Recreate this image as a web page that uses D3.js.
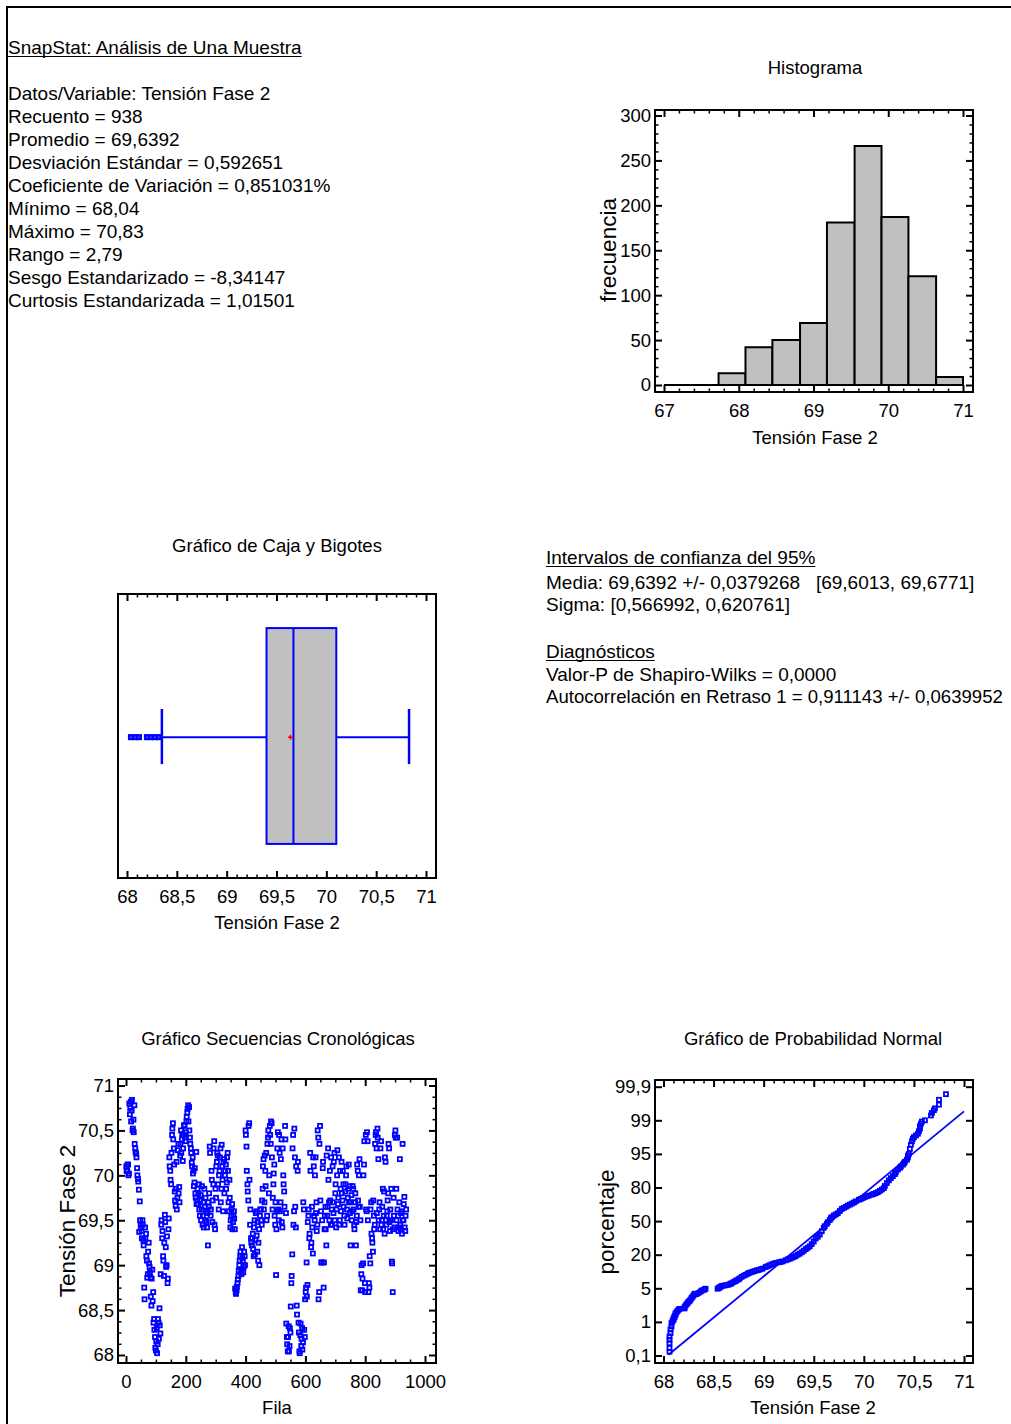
<!DOCTYPE html>
<html>
<head>
<meta charset="utf-8">
<title>SnapStat: Análisis de Una Muestra</title>
<script src="https://d3js.org/d3.v7.min.js"></script>
<style>
  body { margin: 0; background: #fff; }
  svg text { font-family: "Liberation Sans", Arial, Helvetica, sans-serif; fill: #000; }
</style>
</head>
<body>
<svg id="hoja" width="1011" height="1424"></svg>
<script>
// ---- datos ----
var resumen = [
  "Datos/Variable: Tensión Fase 2",
  "Recuento = 938",
  "Promedio = 69,6392",
  "Desviación Estándar = 0,592651",
  "Coeficiente de Variación = 0,851031%",
  "Mínimo = 68,04",
  "Máximo = 70,83",
  "Rango = 2,79",
  "Sesgo Estandarizado = -8,34147",
  "Curtosis Estandarizada = 1,01501"
];
var intervalos = [
  "Media: 69,6392 +/- 0,0379268   [69,6013, 69,6771]",
  "Sigma: [0,566992, 0,620761]"
];
var diagnosticos = [
  "Valor-P de Shapiro-Wilks = 0,0000",
  "Autocorrelación en Retraso 1 = 0,911143 +/- 0,0639952"
];

// histograma
var bordesClase = [67, 67.36, 67.73, 68.09, 68.45, 68.82, 69.18, 69.55, 69.91, 70.27, 70.64, 71];
var frecuencias = [0, 0, 13, 42, 50, 69, 181, 266, 187, 121, 9];
var histTicksX = [67, 68, 69, 70, 71];
var histTicksY = [0, 50, 100, 150, 200, 250, 300];

// caja y bigotes
var bigoteInf = 68.35, cuartil1 = 69.40, mediana = 69.67, cuartil3 = 70.10, bigoteSup = 70.83;
var media = 69.64;
var atipicos = [68.04, 68.08, 68.12, 68.20, 68.24, 68.28, 68.32];
var cajaTicksX = [68, 68.5, 69, 69.5, 70, 70.5, 71];

// secuencia cronologica: lecturas en las filas 1, 4, 7, ... 937
var tensionA = [
  70.10, 70.05, 70.12, 70.02, 70.68, 70.82, 70.72, 70.50, 70.62, 70.78,
  70.30, 70.24, 70.08, 69.96, 69.84, 69.71, 69.45, 69.38, 69.50, 69.28,
  68.75, 69.42, 69.35, 69.05, 68.90, 69.25, 68.98, 68.86, 68.55, 68.95,
  68.70, 68.40, 68.20, 68.05, 68.30, 68.12, 68.36, 68.52, 68.24, 69.45,
  69.30, 69.10, 68.88, 69.56, 69.20, 69.00, 68.80, 69.40, 70.20, 70.05,
  69.90, 70.45, 70.58, 70.30, 69.82, 69.66, 70.15, 69.75, 70.35, 69.87,
  70.22, 70.50, 70.40, 70.16, 70.45, 70.55, 70.38, 70.60, 70.70, 70.78,
  70.76, 70.42, 70.30, 70.14, 70.20, 70.05, 69.92, 69.80, 70.26, 69.72,
  69.68, 69.90, 69.55, 69.78, 69.62, 69.45, 69.70, 69.85, 69.50, 69.60,
  69.42, 69.22, 69.65, 70.32, 69.55, 70.05, 69.48, 69.90, 70.38, 69.40,
  69.75, 70.15, 70.22, 69.62, 70.05, 70.30, 69.85, 70.10, 69.60, 70.18,
  70.00, 70.12, 69.92, 70.25, 69.70, 69.95, 69.42, 69.55, 69.68, 69.48,
  69.60, 69.40, 68.70, 68.72, 68.80, 68.88, 69.00, 69.10, 68.95, 69.20,
  69.05, 68.98, 69.10, 70.50, 70.32, 69.90, 69.72, 70.58, 69.45, 69.30,
  69.22, 69.35, 69.10, 69.50, 69.28, 69.60, 69.15, 69.05, 69.40, 69.55,
  69.62, 69.45, 69.85, 70.18, 69.70, 70.05, 70.25, 69.55, 70.42, 69.80,
  70.55, 70.35, 70.58, 69.62, 69.90, 70.12, 69.45, 68.89, 69.60, 70.48,
  69.50, 70.25, 69.70, 70.40, 69.42, 70.00, 69.82, 70.55, 69.58, 68.20,
  68.04, 68.32, 68.10, 68.25, 68.80, 69.12, 70.45, 69.60, 70.20, 69.42,
  68.55, 70.05, 68.36, 68.04, 68.22, 68.10, 68.30, 68.14, 69.62, 68.20,
  68.70, 69.03, 68.78, 69.55, 69.30, 70.25, 69.20, 69.65, 69.13, 70.10,
  69.50, 70.20, 69.70, 69.45, 70.42, 68.70, 70.55, 69.60, 69.03, 70.08,
  68.75, 69.40, 69.65, 69.22, 69.55, 70.30, 69.70, 70.05, 69.45, 69.62,
  70.10, 69.58, 70.25, 69.80, 69.42, 70.00, 69.68, 70.20, 69.50, 69.85,
  70.15, 69.72, 69.90, 69.55, 69.82, 70.00, 69.62, 69.75, 70.12, 69.88,
  69.22, 69.78, 69.60, 69.85, 69.45, 69.70, 69.22, 69.55, 70.05, 69.65,
  70.18, 69.50, 68.90, 68.72, 69.02, 70.12, 68.80, 70.45, 69.60, 70.38,
  68.70, 68.75, 69.02, 69.70, 69.30, 69.15, 69.55, 69.45, 70.45, 70.30,
  70.52, 70.18, 69.62, 69.40, 70.38, 69.50, 69.85, 69.55, 69.35, 70.15,
  69.45, 69.60, 69.80, 70.30, 69.38, 69.50, 69.04, 68.70, 69.75, 69.42,
  70.50, 69.85, 70.42, 69.55, 69.42, 70.18, 69.40, 69.60, 70.35, 69.50,
  69.76, 69.38, 69.62
];
// lecturas en las filas 2, 5, 8, ... 935
var tensionB = [
  70.05, 70.12, 70.00, 70.80, 70.75, 70.60, 70.84, 70.52, 70.48, 70.35,
  70.26, 70.20, 70.00, 69.93, 69.37, 69.50, 69.42, 69.30, 69.45, 69.22,
  68.62, 69.30, 69.10, 68.86, 69.15, 69.02, 68.92, 68.65, 68.85, 68.60,
  68.36, 68.28, 68.08, 68.15, 68.02, 68.40, 68.18, 68.33, 68.90, 69.50,
  69.38, 69.05, 69.25, 69.48, 68.98, 69.32, 68.85, 69.52, 70.10, 69.95,
  70.25, 70.52, 70.40, 70.12, 69.72, 69.85, 69.62, 70.28, 69.80, 69.70,
  70.35, 70.25, 70.46, 70.30, 70.56, 70.42, 70.48, 70.65, 70.74, 70.60,
  70.50, 70.35, 70.25, 70.10, 70.02, 69.88, 70.08, 69.75, 69.68, 69.85,
  69.80, 69.62, 69.72, 69.50, 69.88, 69.55, 69.42, 69.65, 69.75, 69.48,
  69.58, 69.70, 69.80, 70.25, 69.62, 69.95, 69.72, 70.30, 69.45, 69.85,
  70.10, 70.25, 69.90, 70.00, 70.20, 69.70, 70.34, 69.95, 70.15, 69.80,
  70.05, 69.85, 70.20, 70.05, 69.60, 69.75, 69.50, 69.62, 69.40, 69.55,
  69.52, 68.74, 68.68, 68.76, 68.84, 68.94, 69.05, 69.15, 68.90, 69.08,
  68.92, 69.15, 69.00, 70.45, 70.05, 69.82, 70.55, 69.95, 69.62, 69.25,
  69.30, 69.18, 69.42, 69.12, 69.58, 69.33, 69.48, 69.25, 69.00, 69.62,
  69.50, 69.72, 70.10, 69.62, 70.22, 69.88, 69.50, 70.35, 70.50, 70.00,
  70.45, 70.60, 70.20, 69.75, 70.02, 69.55, 69.70, 69.40, 70.30, 69.62,
  70.45, 69.60, 70.18, 69.48, 70.30, 69.90, 69.65, 70.40, 68.35, 68.12,
  68.20, 68.04, 68.30, 68.54, 68.88, 70.30, 69.45, 70.52, 69.65, 70.10,
  68.45, 70.15, 68.25, 68.02, 68.35, 68.18, 68.06, 69.70, 68.28, 68.62,
  68.75, 68.65, 69.48, 69.62, 69.35, 70.05, 69.25, 69.42, 70.20, 69.55,
  70.00, 69.58, 69.38, 70.50, 68.62, 70.35, 69.72, 69.03, 69.50, 70.15,
  69.03, 69.55, 69.40, 70.22, 69.65, 69.95, 69.50, 69.72, 70.20, 69.45,
  69.70, 70.15, 69.50, 69.90, 69.62, 70.28, 69.75, 69.45, 70.05, 69.60,
  69.80, 70.05, 69.65, 69.45, 69.90, 70.10, 69.52, 69.85, 69.70, 69.58,
  69.70, 69.50, 69.88, 69.62, 69.40, 69.80, 69.48, 70.12, 69.72, 70.00,
  69.65, 68.72, 69.00, 68.85, 70.00, 70.38, 68.70, 69.62, 70.48, 69.50,
  68.80, 69.10, 69.62, 69.35, 69.25, 69.72, 69.40, 70.35, 70.48, 69.58,
  70.42, 69.50, 69.70, 70.30, 69.45, 69.65, 69.40, 69.82, 70.20, 69.50,
  69.55, 69.72, 70.35, 69.48, 69.62, 69.85, 69.02, 69.40, 69.55, 70.45,
  70.42, 69.50, 69.62, 69.38, 69.70, 69.45, 69.58, 69.35, 69.50, 69.68,
  69.42, 69.55
];
var serieTicksX = [0, 200, 400, 600, 800, 1000];
var serieTicksY = [68, 68.5, 69, 69.5, 70, 70.5, 71];

// probabilidad normal: [valor ordenado, porcentaje]
var probNormal = [
  [68.06, 0.2], [68.06, 0.3], [68.06, 0.43], [68.06, 0.52], [68.06, 0.61], [68.07, 0.7], [68.07, 0.8],
  [68.08, 0.88], [68.08, 0.97], [68.09, 1.08], [68.10, 1.25], [68.10, 1.4], [68.11, 1.55], [68.11, 1.67],
  [68.12, 1.85], [68.12, 2.0], [68.13, 2.15], [68.14, 2.3], [68.15, 2.45], [68.16, 2.55],
  [68.21, 2.6], [68.21, 2.75], [68.22, 2.95], [68.23, 3.1], [68.24, 3.24], [68.25, 3.4], [68.26, 3.5],
  [68.27, 3.65], [68.28, 3.85], [68.29, 4.0], [68.30, 4.15], [68.31, 4.35], [68.33, 4.3], [68.35, 4.45],
  [68.37, 4.6], [68.38, 4.73], [68.40, 4.8], [68.41, 4.88], [68.42, 4.95],
  [68.54, 4.95], [68.55, 5.1], [68.56, 5.4], [68.57, 5.7], [68.58, 6.0], [68.60, 6.2], [68.62, 6.35],
  [68.64, 6.5], [68.66, 6.8], [68.67, 7.0], [68.68, 7.3], [68.70, 7.8], [68.72, 8.2], [68.73, 8.6],
  [68.75, 9.0], [68.76, 9.4], [68.78, 10.1], [68.80, 10.6], [68.82, 11.0], [68.84, 11.5], [68.85, 11.8],
  [68.87, 12.1], [68.89, 12.4], [68.91, 12.7], [68.93, 13.0], [68.95, 13.2], [68.97, 13.5], [68.99, 13.8],
  [69.02, 14.5], [69.04, 14.9], [69.06, 15.3], [69.08, 15.7], [69.10, 16.0], [69.12, 16.3], [69.15, 16.6],
  [69.17, 16.8], [69.19, 17.0], [69.22, 17.5], [69.24, 17.9], [69.26, 18.2], [69.28, 18.6], [69.30, 19.0],
  [69.32, 19.4], [69.34, 20.0], [69.36, 21.0], [69.38, 22.2], [69.40, 23.5], [69.42, 25.0], [69.44, 26.2],
  [69.46, 27.5], [69.48, 29.5], [69.50, 31.8], [69.52, 34.5], [69.54, 36.0], [69.56, 38.0], [69.58, 41.0],
  [69.60, 44.0], [69.61, 45.5], [69.63, 47.5], [69.64, 49.0], [69.66, 51.0], [69.67, 52.5], [69.68, 53.5],
  [69.70, 55.0], [69.72, 56.0], [69.74, 57.0], [69.76, 59.0], [69.78, 60.9], [69.80, 61.8], [69.82, 62.7],
  [69.84, 63.8], [69.86, 64.7], [69.88, 65.6], [69.90, 66.6], [69.92, 67.6], [69.95, 69.0], [69.97, 69.8],
  [69.99, 70.6], [70.01, 71.5], [70.03, 72.2], [70.05, 72.8], [70.08, 73.6], [70.10, 74.3], [70.12, 75.0],
  [70.14, 75.8], [70.16, 77.0], [70.18, 78.2], [70.20, 79.5], [70.21, 80.7], [70.23, 82.0], [70.25, 83.2],
  [70.27, 84.2], [70.29, 85.1], [70.31, 86.0], [70.32, 86.8], [70.34, 88.0], [70.36, 88.8], [70.37, 89.4],
  [70.39, 90.2], [70.40, 90.8], [70.41, 91.5], [70.43, 92.4], [70.44, 93.4], [70.44, 94.2], [70.45, 95.0],
  [70.46, 95.6], [70.47, 96.1], [70.48, 96.5], [70.49, 96.8], [70.50, 97.0], [70.52, 97.2], [70.54, 97.4],
  [70.55, 97.7], [70.56, 98.0], [70.56, 98.3], [70.57, 98.6], [70.58, 98.85], [70.61, 99.0], [70.67, 99.13],
  [70.68, 99.2], [70.70, 99.27], [70.71, 99.32], [70.75, 99.42], [70.75, 99.55], [70.82, 99.7]
];
var rectaValor = [68.05, 71.0];
var rectaPct = [0.12, 99.24];
var normalTicksY = [0.1, 1, 5, 20, 50, 80, 95, 99, 99.9];
var normalTicksX = [68, 68.5, 69, 69.5, 70, 70.5, 71];

// ---- dibujo ----
var svg = d3.select("#hoja");
var azul = "#0000ff";
var tam = "18.5px";
var coma = d3.formatLocale({decimal: ",", thousands: ".", grouping: [3], currency: ["", ""]}).format("");

// marco de la hoja
svg.append("path").attr("d", "M7,1424V7H1011")
  .attr("fill", "none").attr("stroke", "#000").attr("stroke-width", 2);

function texto(x, y, s, ancla, size) {
  return svg.append("text").attr("x", x).attr("y", y)
    .attr("text-anchor", ancla || "start")
    .style("font-size", size || tam)
    .style("white-space", "pre")
    .text(s);
}
function subrayado(x, y, s) {
  var t = texto(x, y, s, "start", "19px");
  var w = t.node().getComputedTextLength();
  svg.append("line").attr("x1", x).attr("x2", x + w).attr("y1", y + 2.5).attr("y2", y + 2.5)
    .attr("stroke", "#000").attr("stroke-width", 1.2);
}
function tituloY(x, y, s) {
  svg.append("text").attr("transform", "translate(" + x + "," + y + ") rotate(-90)")
    .attr("text-anchor", "middle").attr("dy", "0.35em")
    .style("font-size", "22.5px").text(s);
}

// bloques de texto
subrayado(8, 54, "SnapStat: Análisis de Una Muestra");
resumen.forEach(function(s, i) { texto(8, 100 + i * 23, s, "start", "19px"); });

subrayado(546, 564, "Intervalos de confianza del 95%");
intervalos.forEach(function(s, i) { texto(546, 589 + i * 22, s, "start", "19px"); });
subrayado(546, 658, "Diagnósticos");
diagnosticos.forEach(function(s, i) {
  var t = texto(546, 681 + i * 22, s, "start", "19px");
  // la ultima linea llega al borde derecho: se reduce la letra para que quepa
  var ancho = t.node().getComputedTextLength(), maximo = 1003 - 546;
  if (ancho > maximo) t.style("font-size", (19 * maximo / ancho).toFixed(2) + "px");
});

// ejes con marcas hacia dentro en los cuatro lados
function ejes(caja, x, xMay, xMen, y, yMay, yMen, fmtY) {
  var g = svg.append("g");
  var ab = caja.y + caja.h, de = caja.x + caja.w;
  g.append("g").attr("transform", "translate(0," + ab + ")")
    .call(d3.axisBottom(x).tickValues(xMay).tickSizeInner(-7).tickSizeOuter(0).tickPadding(12).tickFormat(coma));
  g.append("g").attr("transform", "translate(0," + caja.y + ")")
    .call(d3.axisTop(x).tickValues(xMay).tickSizeInner(-7).tickSizeOuter(0).tickFormat(""));
  if (xMen) {
    g.append("g").attr("class", "menor").attr("transform", "translate(0," + ab + ")")
      .call(d3.axisBottom(x).tickValues(xMen).tickSizeInner(-3.5).tickSizeOuter(0).tickFormat(""));
    g.append("g").attr("class", "menor").attr("transform", "translate(0," + caja.y + ")")
      .call(d3.axisTop(x).tickValues(xMen).tickSizeInner(-3.5).tickSizeOuter(0).tickFormat(""));
  }
  if (y) {
    g.append("g").attr("transform", "translate(" + caja.x + ",0)")
      .call(d3.axisLeft(y).tickValues(yMay).tickSizeInner(-7).tickSizeOuter(0).tickPadding(4).tickFormat(fmtY || coma));
    g.append("g").attr("transform", "translate(" + de + ",0)")
      .call(d3.axisRight(y).tickValues(yMay).tickSizeInner(-7).tickSizeOuter(0).tickFormat(""));
    if (yMen) {
      g.append("g").attr("class", "menor").attr("transform", "translate(" + caja.x + ",0)")
        .call(d3.axisLeft(y).tickValues(yMen).tickSizeInner(-3.5).tickSizeOuter(0).tickFormat(""));
      g.append("g").attr("class", "menor").attr("transform", "translate(" + de + ",0)")
        .call(d3.axisRight(y).tickValues(yMen).tickSizeInner(-3.5).tickSizeOuter(0).tickFormat(""));
    }
  }
  g.selectAll(".domain").remove();
  g.selectAll(".tick line").attr("stroke", "#000").attr("stroke-width", 2);
  g.selectAll(".menor .tick line").attr("stroke-width", 1.5);
  g.selectAll(".tick text").style("font-size", tam).attr("fill", "#000");
  svg.append("rect").attr("x", caja.x).attr("y", caja.y).attr("width", caja.w).attr("height", caja.h)
    .attr("fill", "none").attr("stroke", "#000").attr("stroke-width", 2);
}
function menores(a, b, paso, mayores) {
  return d3.range(a, b + paso / 2, paso).filter(function(v) {
    return !mayores.some(function(m) { return Math.abs(m - v) < paso / 10; });
  });
}
function cuadros(sel, puntos, fx, fy, lado, grosor) {
  sel.selectAll(null).data(puntos).enter().append("rect")
    .attr("x", function(d) { return fx(d[0]) - lado / 2; })
    .attr("y", function(d) { return fy(d[1]) - lado / 2; })
    .attr("width", lado).attr("height", lado)
    .attr("fill", "none").attr("stroke", azul).attr("stroke-width", grosor);
}

// ---------- Histograma ----------
var cajaH = {x: 655, y: 110, w: 318, h: 282};
var xH = d3.scaleLinear().domain([67, 71]).range([664, 963]);
var yH = d3.scaleLinear().domain([0, 300]).range([385, 115.5]);
texto(815, 74, "Histograma", "middle");
svg.append("g").selectAll("path").data(frecuencias).enter().append("path")
  .attr("d", function(f, i) {
    var x0 = xH(bordesClase[i]), x1 = xH(bordesClase[i + 1]);
    return "M" + x0 + "," + yH(0) + "V" + yH(f) + "H" + x1 + "V" + yH(0) + "Z";
  })
  .attr("fill", "#c0c0c0").attr("stroke", "#000").attr("stroke-width", 2);
ejes(cajaH, xH, histTicksX, menores(67, 71, 0.2, histTicksX), yH, histTicksY, menores(0, 300, 10, histTicksY));
texto(815, 444, "Tensión Fase 2", "middle");
tituloY(608, 250, "frecuencia");

// ---------- Caja y bigotes ----------
var cajaB = {x: 118, y: 594, w: 318, h: 284};
var xB = d3.scaleLinear().domain([68, 71]).range([127, 426]);
var yB = d3.scaleLinear().domain([0, 1]).range([cajaB.y + cajaB.h, cajaB.y]);
texto(277, 552, "Gráfico de Caja y Bigotes", "middle");
var gB = svg.append("g");
var yMed = yB(0.496);
gB.append("line").attr("x1", xB(bigoteInf)).attr("x2", xB(cuartil1)).attr("y1", yMed).attr("y2", yMed)
  .attr("stroke", azul).attr("stroke-width", 2);
gB.append("line").attr("x1", xB(cuartil3)).attr("x2", xB(bigoteSup)).attr("y1", yMed).attr("y2", yMed)
  .attr("stroke", azul).attr("stroke-width", 2);
[bigoteInf, bigoteSup].forEach(function(v) {
  gB.append("line").attr("x1", xB(v)).attr("x2", xB(v)).attr("y1", yB(0.595)).attr("y2", yB(0.401))
    .attr("stroke", azul).attr("stroke-width", 2.5);
});
gB.append("rect").attr("x", xB(cuartil1)).attr("y", yB(0.88))
  .attr("width", xB(cuartil3) - xB(cuartil1)).attr("height", yB(0.12) - yB(0.88))
  .attr("fill", "#c0c0c0").attr("stroke", azul).attr("stroke-width", 2);
gB.append("line").attr("x1", xB(mediana)).attr("x2", xB(mediana)).attr("y1", yB(0.88)).attr("y2", yB(0.12))
  .attr("stroke", azul).attr("stroke-width", 2);
gB.append("path").attr("d", "M" + (xB(media) - 2.5) + "," + yMed + "h5M" + xB(media) + "," + (yMed - 2.5) + "v5")
  .attr("stroke", "#ff0000").attr("stroke-width", 1.5);
cuadros(gB, atipicos.map(function(v) { return [v, 0.496]; }), xB, yB, 3.5, 2.6);
ejes(cajaB, xB, cajaTicksX, menores(68, 71, 0.1, cajaTicksX));
texto(277, 929, "Tensión Fase 2", "middle");

// ---------- Secuencias cronologicas ----------
var cajaS = {x: 118, y: 1079, w: 318, h: 284};
var xS = d3.scaleLinear().domain([0, 1000]).range([126, 425]);
var yS = d3.scaleLinear().domain([68, 71]).range([1355, 1085.5]);
var serie = tensionA.map(function(v, i) { return [1 + 3 * i, v]; })
  .concat(tensionB.map(function(v, i) { return [2 + 3 * i, v]; }));
texto(278, 1045, "Gráfico Secuencias Cronológicas", "middle");
cuadros(svg.append("g"), serie, xS, yS, 4, 1.8);
ejes(cajaS, xS, serieTicksX, menores(0, 1000, 50, serieTicksX), yS, serieTicksY, menores(68, 71, 0.125, serieTicksY));
texto(277, 1414, "Fila", "middle");
tituloY(67, 1221, "Tensión Fase 2");

// ---------- Probabilidad normal ----------
var cajaN = {x: 655, y: 1080, w: 318, h: 283};
var xN = d3.scaleLinear().domain([68, 71]).range([663.5, 964]);
var yN = d3.scaleLinear().domain(normalTicksY)
  .range(normalTicksY.map(function(v, i) { return 1355.5 - i * (1355.5 - 1086.7) / 8; }));
texto(813, 1045, "Gráfico de Probabilidad Normal", "middle");
svg.append("line").attr("x1", xN(rectaValor[0])).attr("y1", yN(rectaPct[0]))
  .attr("x2", xN(rectaValor[1])).attr("y2", yN(rectaPct[1]))
  .attr("stroke", azul).attr("stroke-width", 1.8);
cuadros(svg.append("g"), probNormal, xN, yN, 4, 1.8);
ejes(cajaN, xN, normalTicksX, menores(68, 71, 0.1, normalTicksX), yN, normalTicksY, null);
texto(813, 1414, "Tensión Fase 2", "middle");
tituloY(606, 1222, "porcentaje");
</script>
</body>
</html>
